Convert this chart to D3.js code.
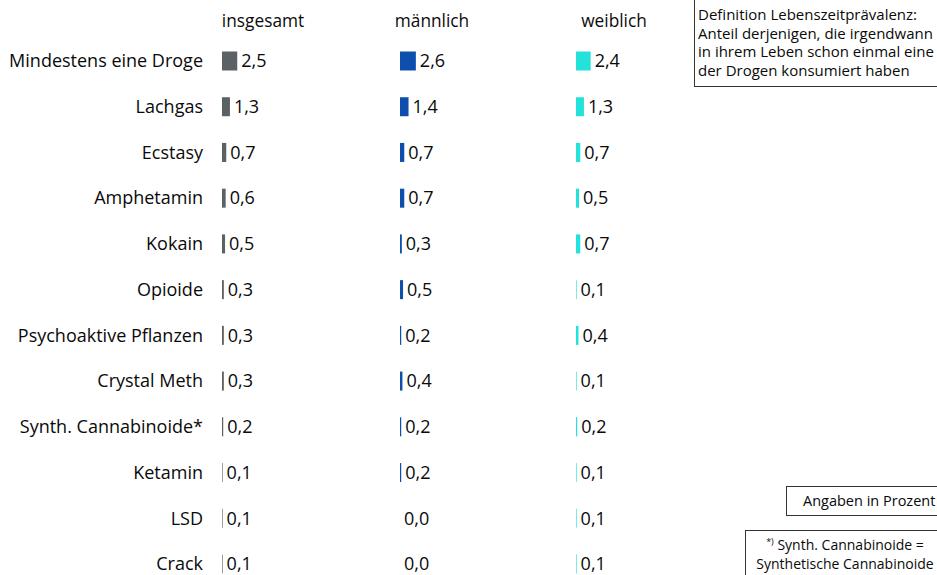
<!DOCTYPE html>
<html>
<head>
<meta charset="utf-8">
<script src="https://cdn.jsdelivr.net/npm/d3@7"></script>
<style>
  body { margin: 0; background: #fff; overflow: hidden; }
  text { font-family: "Open Sans", "Noto Sans", sans-serif; fill: #0a0a0a; }
</style>
</head>
<body>
<div id="chart"></div>
<script>
// Data
const drugs = ["Mindestens eine Droge", "Lachgas", "Ecstasy", "Amphetamin", "Kokain", "Opioide",
  "Psychoaktive Pflanzen", "Crystal Meth", "Synth. Cannabinoide*", "Ketamin", "LSD", "Crack"];
const groups = ["insgesamt", "männlich", "weiblich"];
const insgesamt = [2.5, 1.3, 0.7, 0.6, 0.5, 0.3, 0.3, 0.3, 0.2, 0.1, 0.1, 0.1];
const maennlich = [2.6, 1.4, 0.7, 0.7, 0.3, 0.5, 0.2, 0.4, 0.2, 0.2, 0.0, 0.0];
const weiblich  = [2.4, 1.3, 0.7, 0.5, 0.7, 0.1, 0.4, 0.1, 0.2, 0.1, 0.1, 0.1];
const seriesValues = [insgesamt, maennlich, weiblich];

const colors = ["#5b6266", "#0e4fae", "#22e2d9"];

const width = 937, height = 575;

const svg = d3.select("#chart").append("svg")
  .attr("width", width)
  .attr("height", height);

// Scales
const yScale = d3.scalePoint().domain(drugs).range([61, 564]);
const colStart = d3.scaleOrdinal().domain(groups).range([222, 400, 576]);
const headerX = d3.scaleOrdinal().domain(groups).range([263, 432, 614]);
const xScale = d3.scaleLinear().domain([0, 1]).range([0, 6.1]);
const barH = 19;
const fmt = v => v.toFixed(1).replace(".", ",");

// Column headers
svg.selectAll(".header")
  .data(groups)
  .join("text")
  .attr("class", "header")
  .attr("x", d => headerX(d))
  .attr("y", 27)
  .attr("text-anchor", "middle")
  .style("font-size", "17.3px")
  .text(d => d);

// Row labels
svg.selectAll(".rowLabel")
  .data(drugs)
  .join("text")
  .attr("class", "rowLabel")
  .attr("x", 203)
  .attr("y", d => yScale(d))
  .attr("dy", "0.35em")
  .attr("text-anchor", "end")
  .style("font-size", "18px")
  .text(d => d);

// Bars and values per group
groups.forEach((g, gi) => {
  const rows = drugs.map((d, i) => ({ drug: d, value: seriesValues[gi][i] }));
  const x0 = colStart(g);

  svg.selectAll(".bar-" + gi)
    .data(rows)
    .join("rect")
    .attr("class", "bar-" + gi)
    .attr("x", x0)
    .attr("y", d => yScale(d.drug) - barH / 2)
    .attr("width", d => xScale(d.value))
    .attr("height", barH)
    .attr("fill", colors[gi]);

  svg.selectAll(".val-" + gi)
    .data(rows)
    .join("text")
    .attr("class", "val-" + gi)
    .attr("x", d => x0 + xScale(d.value) + 4)
    .attr("y", d => yScale(d.drug))
    .attr("dy", "0.35em")
    .style("font-size", "18px")
    .text(d => fmt(d.value));
});

// Definition box
const defBox = svg.append("g");
defBox.append("rect")
  .attr("x", 694.5).attr("y", -2)
  .attr("width", 260).attr("height", 88.5)
  .attr("fill", "#fff").attr("stroke", "#333").attr("stroke-width", 1);
["Definition Lebenszeitprävalenz:",
 "Anteil derjenigen, die irgendwann",
 "in ihrem Leben schon einmal eine",
 "der Drogen konsumiert haben"].forEach((t, i) => {
  defBox.append("text")
    .attr("x", 698).attr("y", 20 + i * 18.5)
    .style("font-size", "15px")
    .text(t);
});

// Unit box
svg.append("rect")
  .attr("x", 786.5).attr("y", 486.5)
  .attr("width", 170).attr("height", 29)
  .attr("fill", "#fff").attr("stroke", "#333");
svg.append("text")
  .attr("x", 803).attr("y", 506)
  .style("font-size", "14.5px")
  .text("Angaben in Prozent");

// Footnote box
svg.append("rect")
  .attr("x", 745.5).attr("y", 530.5)
  .attr("width", 220).attr("height", 60)
  .attr("fill", "#fff").attr("stroke", "#333");
const fn = svg.append("text")
  .attr("x", 845).attr("y", 550)
  .attr("text-anchor", "middle")
  .style("font-size", "14px");
fn.append("tspan").attr("font-size", "9px").attr("dy", "-5").text("*)");
fn.append("tspan").attr("dy", "5").text(" Synth. Cannabinoide =");
svg.append("text")
  .attr("x", 845).attr("y", 569)
  .attr("text-anchor", "middle")
  .style("font-size", "14px")
  .text("Synthetische Cannabinoide");
</script>
</body>
</html>
